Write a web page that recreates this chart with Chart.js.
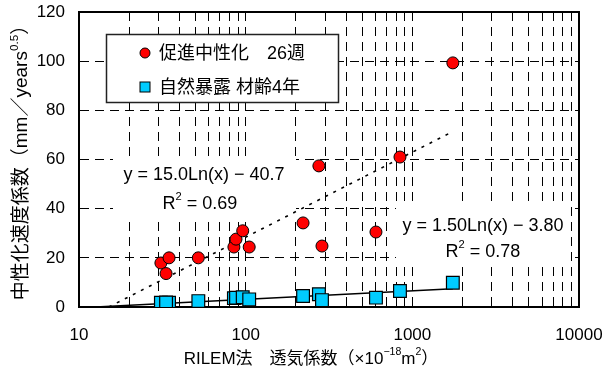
<!DOCTYPE html>
<html><head><meta charset="utf-8">
<script src="https://cdn.jsdelivr.net/npm/chart.js@4/dist/chart.umd.min.js"></script>
<style>html,body{margin:0;padding:0;background:#fff;}#wrap{width:605px;height:373px;}</style>
</head><body><div id="wrap"><canvas id="c" width="605" height="373"></canvas></div>
<script>
// ---- data ----
const permeability   = [31, 34.7, 33.3, 52, 85, 87.5, 96, 105, 221, 275, 287, 605, 843, 1750];
const acceleratedRate = [17.9, 20.0, 13.6, 20.0, 24.4, 27.6, 31.0, 24.4, 34.2, 57.4, 24.8, 30.5, 61.0, 99.3];
const exposureRate    = [1.7, 1.7, 1.8, 2.4, 3.6, 3.8, 4.0, 3.1, 4.5, 5.2, 2.8, 3.8, 6.5, 9.9];
// trend line end points (straight on a log x axis)
const acceleratedTrendX = [15.1, 1650];
const acceleratedTrendY = [0, 70.5];
const exposureTrendX = [12.6, 1750];
const exposureTrendY = [0, 7.4];
const xMajorTicks = [10, 100, 1000, 10000];
const yTickValues = [0, 20, 40, 60, 80, 100, 120];
const seriesNames = ['促進中性化　26週', '自然暴露 材齢4年'];
const trendEquations = ['y = 15.0Ln(x) − 40.7', 'y = 1.50Ln(x) − 3.80'];
const trendR2 = ['0.69', '0.78'];
const xTitleParts = [['RILEM法　透気係数（×10', false], ['−18', true], ['m', false], ['2', true], ['）', false]];
const yTitleParts = [['中性化速度係数（mm／years', false], ['0.5', true], ['）', false]];

const FONT = '"Liberation Sans", Arial, "Noto Sans CJK JP", sans-serif';

function drawRich(ctx, parts, x, y, size, align) {
  const ws = parts.map(p => { ctx.font = (p[1] ? size * 0.62 : size) + 'px ' + FONT; return ctx.measureText(p[0]).width; });
  const total = ws.reduce((a, b) => a + b, 0);
  let cx = align === 'center' ? x - total / 2 : (align === 'left' ? x : x - total);
  ctx.textAlign = 'left'; ctx.textBaseline = 'middle'; ctx.fillStyle = '#000';
  parts.forEach((p, i) => {
    ctx.font = (p[1] ? size * 0.62 : size) + 'px ' + FONT;
    ctx.fillText(p[0], cx, p[1] ? y - size * 0.38 : y);
    cx += ws[i];
  });
}

const decor = {
  id: 'decor',
  beforeDatasetsDraw(chart) {
    const ctx = chart.ctx, a = chart.chartArea;
    ctx.save();
    ctx.fillStyle = '#fff';
    ctx.fillRect(113, 158, 183, 60);
    ctx.fillRect(396, 206, 173, 59);
    drawRich(ctx, [[trendEquations[0], false]], 204, 175, 18, 'center');
    drawRich(ctx, [['R', false], ['2', true], [' = ' + trendR2[0], false]], 200, 204, 18, 'center');
    drawRich(ctx, [[trendEquations[1], false]], 483, 226, 18, 'center');
    drawRich(ctx, [['R', false], ['2', true], [' = ' + trendR2[1], false]], 483, 252, 18, 'center');
    ctx.strokeStyle = '#000'; ctx.lineWidth = 2;
    ctx.strokeRect(a.left, a.top, a.right - a.left, a.bottom - a.top);
    ctx.restore();
  },
  afterDatasetsDraw(chart) {
    const ctx = chart.ctx;
    ctx.save();
    ctx.fillStyle = '#fff'; ctx.fillRect(106.5, 34.5, 232, 68);
    ctx.strokeStyle = '#222'; ctx.lineWidth = 1.5; ctx.strokeRect(106.5, 34.5, 232, 68);
    ctx.strokeStyle = '#000'; ctx.lineWidth = 1;
    ctx.beginPath(); ctx.arc(145, 53, 5, 0, Math.PI * 2);
    ctx.fillStyle = '#FF0000'; ctx.fill(); ctx.stroke();
    ctx.fillStyle = '#00CCFF'; ctx.fillRect(140, 82, 10, 10); ctx.strokeRect(140, 82, 10, 10);
    drawRich(ctx, [[seriesNames[0], false]], 159, 54, 18, 'left');
    drawRich(ctx, [[seriesNames[1], false]], 159, 88, 18, 'left');
    drawRich(ctx, xTitleParts, 311, 359, 17, 'center');
    ctx.translate(22, 158); ctx.rotate(-Math.PI / 2);
    drawRich(ctx, yTitleParts, 0, 0, 19, 'center');
    ctx.restore();
  }
};

const pts = (xs, ys) => xs.map((x, i) => ({x, y: ys[i]}));

new Chart(document.getElementById('c'), {
  type: 'scatter',
  data: {
    datasets: [
      { label: seriesNames[0], data: pts(permeability, acceleratedRate), pointStyle: 'circle', pointRadius: 6,
        backgroundColor: '#FF0000', borderColor: '#000', borderWidth: 1, order: 0 },
      { label: seriesNames[1], data: pts(permeability, exposureRate), pointStyle: 'rect', pointRadius: 9,
        backgroundColor: '#00CCFF', borderColor: '#000', borderWidth: 1.2, order: 0 },
      { label: 'trend1', data: pts(acceleratedTrendX, acceleratedTrendY), showLine: true, pointRadius: 0,
        borderColor: '#000', borderWidth: 1.6, borderDash: [3, 6], fill: false, order: 1 },
      { label: 'trend2', data: pts(exposureTrendX, exposureTrendY), showLine: true, pointRadius: 0,
        borderColor: '#000', borderWidth: 1.5, fill: false, order: 1 }
    ]
  },
  options: {
    responsive: false, animation: false, devicePixelRatio: 1,
    layout: { padding: { top: 12, right: 26, left: 0, bottom: 0 } },
    plugins: { legend: { display: false }, tooltip: { enabled: false } },
    scales: {
      x: {
        type: 'logarithmic', min: 10, max: 10000, position: 'bottom',
        afterBuildTicks: s => {
          const t = [];
          xMajorTicks.forEach((b, i) => {
            t.push({ value: b });
            if (i < xMajorTicks.length - 1) for (let k = 2; k <= 9; k++) t.push({ value: b * k });
          });
          s.ticks = t;
        },
        afterFit: s => { s.height = 66; s.paddingLeft = 0; s.paddingRight = 0; },
        ticks: { autoSkip: false, maxRotation: 0, padding: 18, color: '#000',
          font: { family: FONT, size: 17 },
          callback: v => xMajorTicks.includes(v) ? String(v) : '' },
        grid: { color: '#000', lineWidth: 1, drawTicks: false },
        border: { display: true, color: '#000', width: 2, dash: [9, 6] }
      },
      y: {
        min: 0, max: 120,
        afterBuildTicks: s => { s.ticks = yTickValues.map(v => ({ value: v })); },
        afterFit: s => { s.width = 79; s.paddingTop = 0; s.paddingBottom = 0; },
        ticks: { padding: 14, color: '#000', font: { family: FONT, size: 17 } },
        grid: { color: '#000', lineWidth: 1, drawTicks: false },
        border: { display: true, color: '#000', width: 2, dash: [9, 6] }
      }
    }
  },
  plugins: [decor]
});
</script></body></html>
